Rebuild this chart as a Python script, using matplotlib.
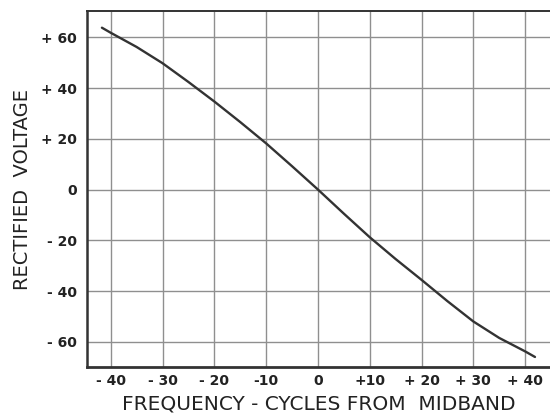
import matplotlib
matplotlib.use("Agg")
import matplotlib.pyplot as plt

freq = [-41.7, -40, -35, -30, -25, -20, -15, -10, -5, 0, 5, 10, 15, 20, 25, 30, 35, 40, 41.9]
volt = [63.8, 61.8, 56.2, 49.8, 42.4, 34.7, 26.6, 18.2, 9.2, 0, -9.5, -18.8, -27.4, -35.6, -44.0, -52.0, -58.5, -63.8, -66.0]

xticks = [-40, -30, -20, -10, 0, 10, 20, 30, 40]
xticklabels = ["- 40", "- 30", "- 20", "-10", "0", "+10", "+ 20", "+ 30", "+ 40"]
yticks = [60, 40, 20, 0, -20, -40, -60]
yticklabels = ["+ 60", "+ 40", "+ 20", "0", "- 20", "- 40", "- 60"]

fig = plt.figure(figsize=(5.5, 4.15), dpi=100)
ax = fig.add_axes([0.158, 0.116, 0.842, 0.857])
ax.plot(freq, volt, color="#333333", lw=1.7, solid_capstyle="round", solid_joinstyle="round")
ax.set_xlim(-44.6, 44.8)
ax.set_ylim(-69.9, 70.3)
ax.set_xticks(xticks)
ax.set_xticklabels(xticklabels, fontsize=10, fontweight="bold", color="#222222")
ax.set_yticks(yticks)
ax.set_yticklabels(yticklabels, fontsize=10, fontweight="bold", color="#222222")
ax.tick_params(axis="y", length=0, pad=7)
ax.tick_params(axis="x", length=0, pad=5)
ax.grid(True, color="#8f8f8f", lw=1.0)
ax.set_axisbelow(True)
ax.spines["right"].set_visible(False)
ax.spines["left"].set_linewidth(1.8)
ax.spines["bottom"].set_linewidth(2.0)
ax.spines["top"].set_linewidth(1.4)
for s in ax.spines.values():
    s.set_color("#333333")
ax.set_xlabel("FREQUENCY - CYCLES FROM  MIDBAND", fontsize=14.5, color="#222222", labelpad=5)
ax.set_ylabel("RECTIFIED  VOLTAGE", fontsize=14, color="#222222", labelpad=7)
fig.savefig("out.png", dpi=100)
